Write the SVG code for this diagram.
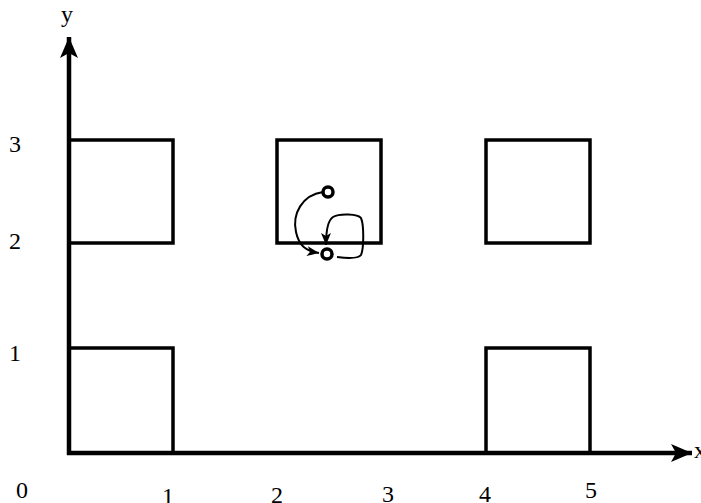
<svg xmlns="http://www.w3.org/2000/svg" width="701" height="503" viewBox="0 0 701 503">
<style>
.axis{stroke:#000;stroke-width:4.5;fill:none}
.cell{stroke:#000;stroke-width:3.5;fill:none}
.lbl{font-family:"Liberation Serif","Times New Roman",serif;font-size:24px;fill:#000}
.edge{stroke:#000;stroke-width:2;fill:none}
.state{stroke:#000;stroke-width:3.5;fill:#fff}
</style>
<defs>
<marker id="bigArrow" markerUnits="userSpaceOnUse" markerWidth="24" markerHeight="20" refX="21" refY="9" orient="auto" overflow="visible">
<path d="M0,0 L21,9 L0,18 L5,9 Z" fill="#000"/>
</marker>
<marker id="smallArrow" markerUnits="userSpaceOnUse" markerWidth="14" markerHeight="12" refX="12" refY="5" orient="auto" overflow="visible">
<path d="M0,0 L12,5 L0,10 L3,5 Z" fill="#000"/>
</marker>
</defs>
<g id="axes">
<line class="axis" x1="69" y1="455" x2="69" y2="37" marker-end="url(#bigArrow)"/>
<line class="axis" x1="67" y1="453" x2="692" y2="453" marker-end="url(#bigArrow)"/>
<text class="lbl" x="61" y="22">y</text>
<text class="lbl" x="694" y="458">x</text>
</g>
<g id="ticks">
<text class="lbl" x="9" y="152">3</text>
<text class="lbl" x="9" y="249">2</text>
<text class="lbl" x="9" y="361">1</text>
<text class="lbl" x="16" y="498">0</text>
<text class="lbl" x="162" y="504">1</text>
<text class="lbl" x="271" y="503">2</text>
<text class="lbl" x="382" y="502">3</text>
<text class="lbl" x="479" y="502">4</text>
<text class="lbl" x="585" y="498">5</text>
</g>
<g id="cell-0-2"><rect class="cell" x="69" y="140" width="104" height="103"/></g>
<g id="cell-2-2"><rect class="cell" x="277" y="140" width="104" height="103"/></g>
<g id="cell-4-2"><rect class="cell" x="486" y="140" width="104" height="103"/></g>
<g id="cell-0-0"><rect class="cell" x="69" y="348" width="104" height="105"/></g>
<g id="cell-4-0"><rect class="cell" x="486" y="348" width="104" height="105"/></g>
<g id="connectors">
<path class="edge" d="M323,192 C302,195 292,214 296,232 C299,246 306,251 319,253" marker-end="url(#smallArrow)"/>
<path class="edge" d="M337,257 C345,258 358,259 361,255 C364,248 364,225 361,218 C358,214 340,213 333,217 C327,221 326,232 326,245" marker-end="url(#smallArrow)"/>
</g>
<g id="state-a"><circle class="state" cx="328" cy="192" r="5"/></g>
<g id="state-b"><circle class="state" cx="327" cy="254" r="5"/></g>
</svg>
